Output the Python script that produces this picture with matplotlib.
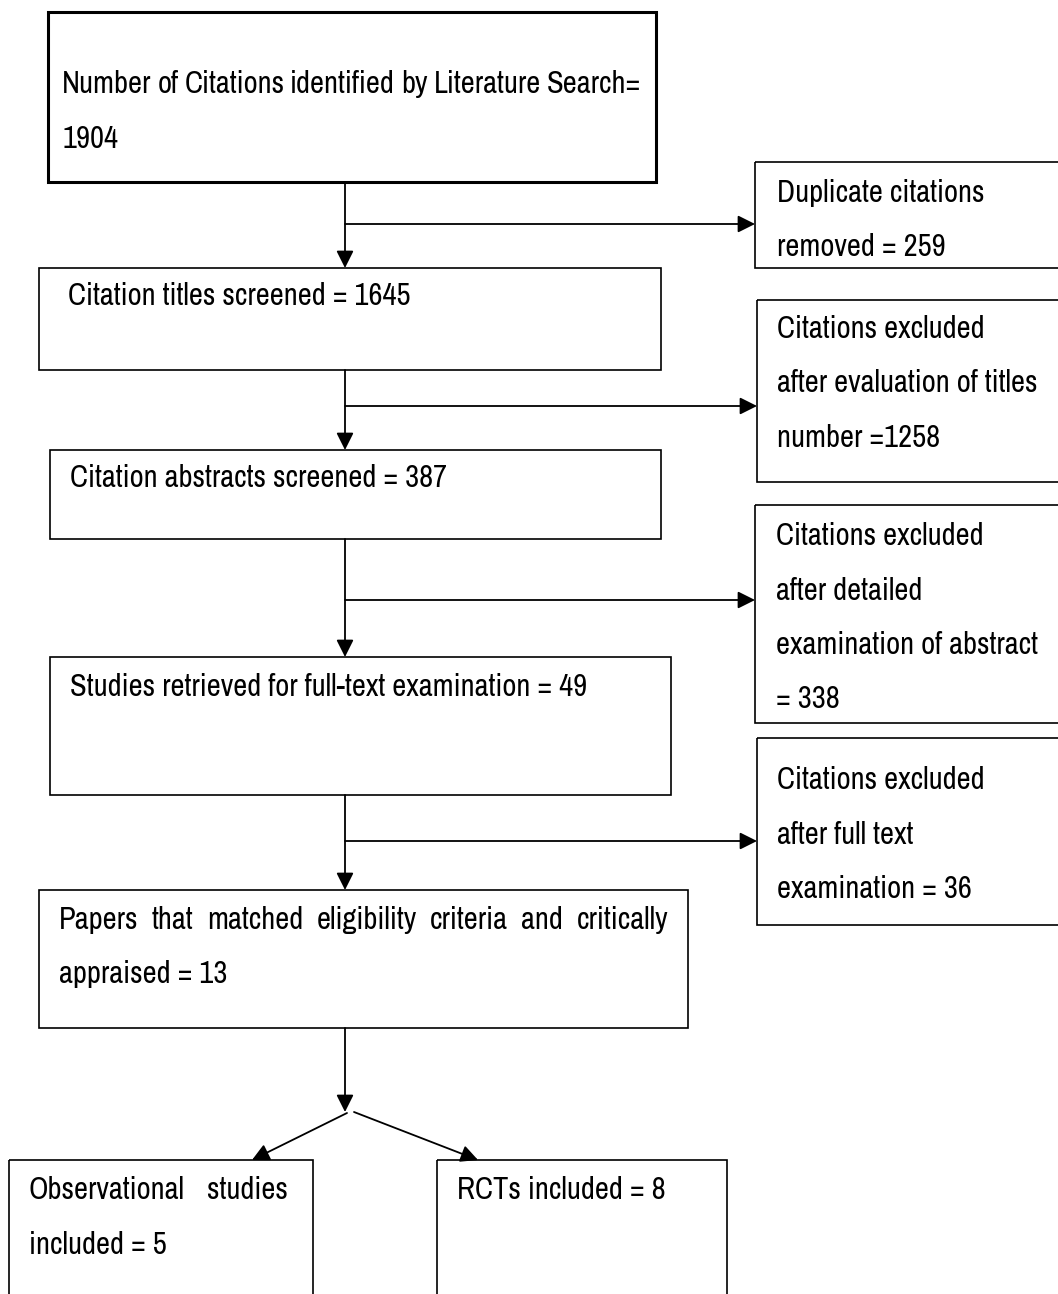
import matplotlib.pyplot as plt
from matplotlib.patches import Rectangle

plt.rcParams['font.family'] = ['Archivo Narrow', 'Liberation Sans', 'DejaVu Sans']

# Flow counts
identified = 1904
duplicates = 259
titles = 1645
excl_titles = 1258
abstracts = 387
excl_abstracts = 338
fulltext = 49
excl_fulltext = 36
appraised = 13
observational = 5
rcts = 8

# Main column box texts (lines)
main_texts = [
    ["Number of Citations identified by Literature Search=", f"{identified}"],
    [f"Citation titles screened = {titles}"],
    [f"Citation abstracts screened = {abstracts}"],
    [f"Studies retrieved for full-text examination = {fulltext}"],
    ["Papers that matched eligibility criteria and critically", f"appraised = {appraised}"],
]
# Side (exclusion) box texts
side_texts = [
    ["Duplicate citations", f"removed = {duplicates}"],
    ["Citations excluded", "after evaluation of titles", f"number ={excl_titles}"],
    ["Citations excluded", "after detailed", "examination of abstract", f"= {excl_abstracts}"],
    ["Citations excluded", "after full text", f"examination = {excl_fulltext}"],
]
# Final boxes
final_texts = [
    ["Observational  studies", f"included = {observational}"],
    [f"RCTs included = {rcts}"],
]

FS = 22
LINE = 54.5

fig = plt.figure(figsize=(10.58, 12.94), dpi=100)
ax = fig.add_axes([0, 0, 1, 1])
ax.set_xlim(0, 1058)
ax.set_ylim(1294, 0)
ax.axis('off')


def box(x0, y0, x1, y1, lw=1.2):
    ax.add_patch(Rectangle((x0, y0), x1 - x0, y1 - y0, fill=False,
                           edgecolor='black', lw=lw, clip_on=True))


def justified(line, x0, x1, y):
    # spread words so the line fills x0..x1 (justified paragraph)
    words = line.split()
    texts = [ax.text(0, y, w, va='center', fontsize=FS) for w in words]
    fig.canvas.draw()
    r = fig.canvas.get_renderer()
    inv = ax.transData.inverted()
    widths = []
    for t in texts:
        bb = t.get_window_extent(r)
        a = inv.transform((bb.x0, bb.y0))[0]
        b = inv.transform((bb.x1, bb.y1))[0]
        widths.append(b - a)
    gap = (x1 - x0 - sum(widths)) / (len(words) - 1)
    x = x0
    for t, w in zip(texts, widths):
        t.set_x(x)
        x += w + gap


def lines(txts, x, y, just_to=None):
    for i, s in enumerate(txts):
        yy = y + i * LINE
        if just_to is not None and i < len(txts) - 1:
            justified(s, x, just_to, yy)
        else:
            ax.text(x, yy, s, va='center', fontsize=FS)


def arrow(x0, y0, x1, y1):
    ax.annotate('', xy=(x1, y1), xytext=(x0, y0),
                arrowprops=dict(arrowstyle='-|>', color='black', lw=1.3,
                                mutation_scale=26, shrinkA=0, shrinkB=0))


# main column
main_boxes = [(48, 12, 656, 182), (39, 268, 661, 370), (50, 450, 661, 539),
              (50, 657, 671, 795), (39, 890, 688, 1028)]
main_text_pos = [(62, 84, 641), (68, 296, None), (70, 478, None),
                 (70, 687, None), (59, 920, 668)]
for i, (b, t, (tx, ty, jt)) in enumerate(zip(main_boxes, main_texts, main_text_pos)):
    box(*b, lw=2.2 if i == 0 else 1.2)
    lines(t, tx, ty, jt)

# side boxes
side_boxes = [(755, 162, 1070, 268), (757, 300, 1070, 482),
              (755, 505, 1070, 723), (757, 738, 1070, 925)]
side_text_pos = [(777, 193), (777, 329), (776, 536), (777, 780)]
for b, t, (tx, ty) in zip(side_boxes, side_texts, side_text_pos):
    box(*b)
    lines(t, tx, ty)

# final boxes
final_boxes = [(9, 1160, 313, 1320), (437, 1160, 727, 1320)]
final_text_pos = [(29, 1190, 288), (457, 1190, None)]
for b, t, (tx, ty, jt) in zip(final_boxes, final_texts, final_text_pos):
    box(*b)
    lines(t, tx, ty, jt)

# connectors
cx = 345
gaps = [(182, 268, 224, 755), (370, 450, 406, 757),
        (539, 657, 600, 755), (795, 890, 841, 757)]
for top, bot, ybr, xend in gaps:
    arrow(cx, top, cx, bot)
    arrow(cx, ybr, xend, ybr)

arrow(cx, 1028, cx, 1112)
arrow(347, 1113, 252, 1160)
arrow(354, 1112, 478, 1160)

plt.savefig('out.png', dpi=100)
